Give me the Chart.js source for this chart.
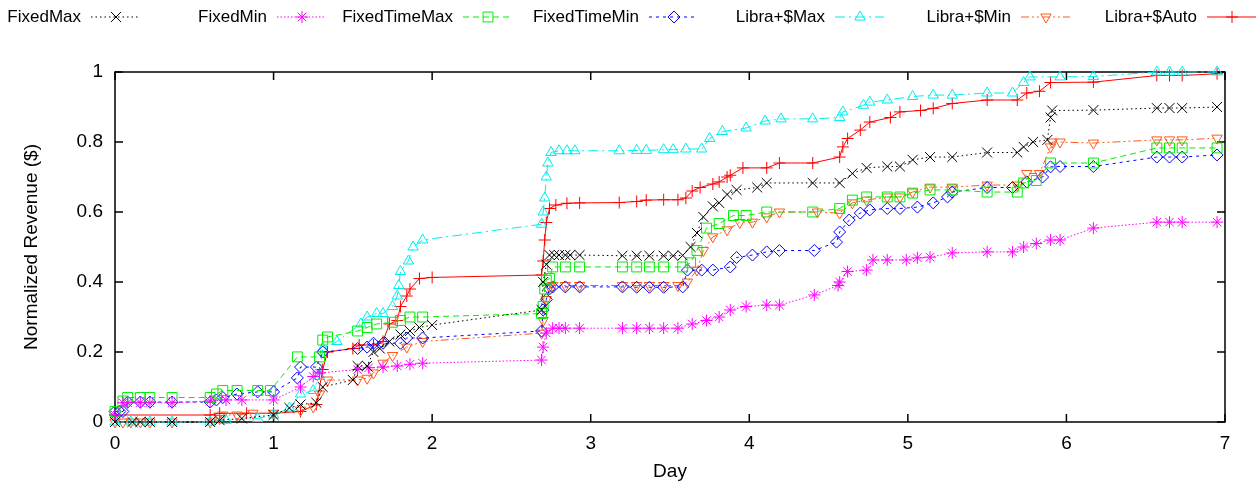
<!DOCTYPE html>
<html>
<head>
<meta charset="utf-8">
<script src="https://cdn.jsdelivr.net/npm/chart.js@4.4.1/dist/chart.umd.min.js"></script>
<style>
  html, body { margin: 0; padding: 0; background: #fff; }
  #wrap { width: 1258px; height: 485px; position: relative; }
</style>
</head>
<body>
<div id="wrap"><canvas id="revenue"></canvas></div>
<script>
// series values: [day, normalized revenue]
const fixedMax = [[0,0],[0.11,0],[0.16,0],[0.22,0],[0.36,0],[0.6,0],[0.66,0.005],[0.8,0.01],[1.0,0.02],[1.1,0.04],[1.17,0.05],[1.27,0.055],[1.31,0.1],[1.5,0.12],[1.53,0.16],[1.59,0.16],[1.63,0.2],[1.67,0.21],[1.73,0.23],[1.8,0.25],[1.86,0.26],[1.92,0.27],[2.0,0.277],[2.69,0.32],[2.7,0.4],[2.72,0.45],[2.74,0.477],[2.77,0.477],[2.8,0.477],[2.84,0.477],[2.87,0.477],[2.93,0.477],[3.2,0.475],[3.29,0.475],[3.37,0.475],[3.46,0.475],[3.52,0.475],[3.58,0.476],[3.63,0.5],[3.67,0.54],[3.71,0.586],[3.77,0.616],[3.81,0.626],[3.86,0.65],[3.92,0.663],[4.05,0.67],[4.11,0.683],[4.4,0.683],[4.57,0.683],[4.65,0.71],[4.74,0.726],[4.87,0.73],[4.95,0.73],[5.03,0.749],[5.14,0.757],[5.28,0.757],[5.5,0.77],[5.69,0.77],[5.73,0.786],[5.79,0.8],[5.88,0.806],[5.9,0.87],[5.91,0.89],[6.17,0.891],[6.57,0.897],[6.65,0.897],[6.73,0.897],[6.95,0.9]];
const fixedMin = [[0,0.02],[0.05,0.055],[0.08,0.055],[0.16,0.055],[0.22,0.055],[0.36,0.055],[0.6,0.06],[0.7,0.063],[0.8,0.063],[1.0,0.063],[1.17,0.1],[1.25,0.13],[1.29,0.14],[1.53,0.15],[1.6,0.155],[1.69,0.157],[1.78,0.16],[1.86,0.165],[1.94,0.168],[2.69,0.177],[2.7,0.214],[2.72,0.254],[2.76,0.268],[2.8,0.268],[2.84,0.268],[2.93,0.268],[3.2,0.268],[3.29,0.268],[3.37,0.268],[3.46,0.268],[3.55,0.268],[3.64,0.28],[3.73,0.29],[3.81,0.3],[3.88,0.32],[3.98,0.33],[4.11,0.334],[4.19,0.334],[4.41,0.363],[4.56,0.39],[4.57,0.4],[4.62,0.43],[4.74,0.434],[4.78,0.463],[4.87,0.463],[4.99,0.463],[5.06,0.469],[5.14,0.471],[5.28,0.483],[5.5,0.486],[5.66,0.486],[5.73,0.5],[5.81,0.51],[5.9,0.52],[5.96,0.52],[6.17,0.554],[6.57,0.571],[6.65,0.571],[6.73,0.571],[6.95,0.571]];
const fixedTimeMax = [[0,0.03],[0.05,0.06],[0.08,0.07],[0.16,0.07],[0.22,0.07],[0.36,0.07],[0.6,0.07],[0.64,0.08],[0.68,0.09],[0.77,0.09],[0.9,0.09],[0.98,0.09],[1.15,0.186],[1.29,0.186],[1.31,0.234],[1.34,0.243],[1.53,0.26],[1.59,0.27],[1.65,0.28],[1.75,0.285],[1.8,0.29],[1.86,0.3],[1.94,0.3],[2.69,0.31],[2.7,0.33],[2.71,0.38],[2.72,0.405],[2.74,0.41],[2.76,0.443],[2.84,0.443],[2.93,0.443],[3.2,0.443],[3.29,0.443],[3.37,0.443],[3.46,0.443],[3.58,0.443],[3.63,0.455],[3.67,0.49],[3.73,0.554],[3.81,0.567],[3.9,0.59],[3.98,0.59],[4.11,0.6],[4.4,0.6],[4.57,0.61],[4.65,0.634],[4.74,0.643],[4.87,0.643],[4.95,0.643],[5.03,0.654],[5.14,0.663],[5.28,0.663],[5.5,0.657],[5.69,0.657],[5.73,0.683],[5.81,0.69],[5.9,0.74],[6.17,0.74],[6.57,0.783],[6.65,0.783],[6.73,0.783],[6.95,0.783]];
const fixedTimeMin = [[0,0.03],[0.03,0.03],[0.05,0.03],[0.08,0.057],[0.16,0.057],[0.22,0.057],[0.36,0.057],[0.6,0.057],[0.64,0.063],[0.68,0.07],[0.77,0.08],[0.9,0.086],[1.0,0.086],[1.15,0.126],[1.17,0.157],[1.27,0.157],[1.31,0.2],[1.53,0.21],[1.59,0.214],[1.63,0.225],[1.69,0.225],[1.8,0.225],[1.84,0.24],[1.94,0.24],[2.69,0.26],[2.7,0.32],[2.72,0.35],[2.74,0.38],[2.76,0.386],[2.84,0.386],[2.93,0.386],[3.2,0.386],[3.29,0.385],[3.37,0.385],[3.46,0.385],[3.58,0.386],[3.61,0.434],[3.7,0.434],[3.77,0.434],[3.88,0.443],[3.92,0.47],[4.02,0.477],[4.11,0.486],[4.19,0.49],[4.41,0.49],[4.55,0.514],[4.57,0.543],[4.63,0.577],[4.7,0.597],[4.76,0.606],[4.87,0.61],[4.95,0.61],[5.06,0.614],[5.16,0.626],[5.25,0.643],[5.28,0.657],[5.5,0.67],[5.66,0.67],[5.75,0.686],[5.85,0.7],[5.9,0.729],[5.96,0.73],[6.17,0.73],[6.57,0.757],[6.65,0.757],[6.73,0.757],[6.95,0.763]];
const libraMax = [[0,0],[0.1,0],[0.22,0],[0.36,0],[0.6,0],[0.7,0.005],[0.9,0.01],[1.0,0.02],[1.1,0.04],[1.17,0.08],[1.25,0.09],[1.29,0.13],[1.31,0.21],[1.4,0.23],[1.55,0.28],[1.59,0.3],[1.65,0.31],[1.69,0.31],[1.75,0.33],[1.78,0.36],[1.79,0.39],[1.8,0.43],[1.85,0.46],[1.88,0.5],[1.94,0.52],[2.69,0.565],[2.7,0.6],[2.71,0.64],[2.72,0.7],[2.73,0.74],[2.75,0.77],[2.8,0.775],[2.85,0.775],[2.9,0.775],[3.18,0.775],[3.29,0.776],[3.35,0.776],[3.46,0.778],[3.52,0.778],[3.6,0.78],[3.7,0.78],[3.75,0.81],[3.83,0.83],[3.98,0.84],[4.1,0.86],[4.2,0.866],[4.4,0.866],[4.57,0.87],[4.59,0.886],[4.72,0.905],[4.76,0.914],[4.87,0.92],[5.03,0.93],[5.16,0.934],[5.28,0.934],[5.5,0.94],[5.66,0.94],[5.73,0.97],[5.77,0.986],[5.96,0.986],[6.17,0.987],[6.57,1.0],[6.65,1.0],[6.73,1.0],[6.95,1.0]];
const libraMin = [[0,0],[0.05,0],[0.1,0],[0.16,0],[0.22,0],[0.36,0],[0.6,0],[0.66,0.01],[0.68,0.02],[0.77,0.02],[0.87,0.025],[1.0,0.025],[1.17,0.034],[1.25,0.043],[1.29,0.08],[1.34,0.12],[1.53,0.12],[1.59,0.125],[1.63,0.14],[1.69,0.168],[1.75,0.19],[1.84,0.214],[1.94,0.23],[2.69,0.254],[2.7,0.29],[2.72,0.35],[2.74,0.386],[2.76,0.39],[2.84,0.39],[2.93,0.39],[3.2,0.39],[3.29,0.39],[3.37,0.39],[3.46,0.39],[3.55,0.39],[3.61,0.4],[3.67,0.434],[3.71,0.49],[3.77,0.529],[3.86,0.549],[3.94,0.57],[4.02,0.571],[4.11,0.586],[4.19,0.6],[4.43,0.6],[4.57,0.597],[4.65,0.626],[4.74,0.634],[4.87,0.643],[4.95,0.643],[5.03,0.657],[5.14,0.671],[5.28,0.671],[5.5,0.677],[5.69,0.677],[5.75,0.71],[5.83,0.71],[5.9,0.786],[5.91,0.8],[5.96,0.8],[6.17,0.797],[6.57,0.806],[6.65,0.806],[6.73,0.806],[6.95,0.811]];
const libraAuto = [[0,0.02],[0.6,0.02],[0.66,0.025],[0.83,0.025],[1.0,0.025],[1.17,0.03],[1.27,0.05],[1.31,0.15],[1.34,0.2],[1.5,0.21],[1.54,0.22],[1.63,0.22],[1.69,0.23],[1.73,0.28],[1.78,0.29],[1.8,0.33],[1.84,0.36],[1.86,0.38],[1.92,0.41],[2.0,0.413],[2.69,0.42],[2.7,0.46],[2.71,0.52],[2.72,0.57],[2.74,0.61],[2.78,0.62],[2.85,0.625],[2.93,0.626],[3.18,0.627],[3.29,0.63],[3.35,0.634],[3.46,0.635],[3.55,0.635],[3.6,0.64],[3.64,0.66],[3.69,0.67],[3.77,0.68],[3.81,0.686],[3.86,0.7],[3.88,0.705],[3.96,0.726],[4.11,0.726],[4.19,0.74],[4.4,0.74],[4.57,0.757],[4.59,0.786],[4.62,0.81],[4.7,0.834],[4.76,0.857],[4.89,0.87],[4.95,0.886],[5.08,0.89],[5.16,0.896],[5.28,0.91],[5.5,0.92],[5.69,0.92],[5.75,0.94],[5.83,0.945],[5.9,0.97],[6.17,0.971],[6.57,0.99],[6.65,0.99],[6.73,0.99],[6.95,0.995]];

const seriesNames = ['FixedMax', 'FixedMin', 'FixedTimeMax', 'FixedTimeMin', 'Libra+$Max', 'Libra+$Min', 'Libra+$Auto'];
const dayTicks = [0, 1, 2, 3, 4, 5, 6, 7];
const revTicks = [0, 0.2, 0.4, 0.6, 0.8, 1];

const seriesData = [fixedMax, fixedMin, fixedTimeMax, fixedTimeMin, libraMax, libraMin, libraAuto];
const colors = ['#000000', '#ff00ff', '#00ee00', '#0000ff', '#00eeee', '#ff5a1e', '#ff0000'];
const dashes = [[1.5, 3], [1.5, 2], [6, 4], [3, 4], [10, 4, 2, 4], [8, 3, 2, 3, 2, 3], []];
const markers = ['crossRot', 'star', 'rect', 'rectRot', 'triangle', 'triangle', 'cross'];
const rotations = [0, 0, 0, 0, 0, 180, 0];
const radii = [7, 6, 7, 6, 6, 6, 6];

Chart.defaults.font.family = '"Liberation Sans", Arial, sans-serif';
Chart.defaults.color = '#000';

// gnuplot style key: text, then line sample with marker
const keyPlugin = {
  id: 'key',
  afterDraw(chart) {
    const ctx = chart.ctx;
    ctx.save();
    ctx.font = '17px "Liberation Sans", Arial, sans-serif';
    ctx.textAlign = 'right';
    ctx.textBaseline = 'middle';
    chart.data.datasets.forEach((ds, i) => {
      const mx = 116 + 186 * i, y = 17;
      ctx.fillStyle = '#000';
      ctx.fillText(ds.label, mx - 35, y);
      ctx.strokeStyle = ds.borderColor;
      ctx.lineWidth = 1;
      ctx.setLineDash(ds.borderDash);
      ctx.beginPath();
      ctx.moveTo(mx - 25, y);
      ctx.lineTo(mx + 24, y);
      ctx.stroke();
      ctx.setLineDash([]);
      ctx.fillStyle = 'rgba(0,0,0,0)';
      Chart.helpers.drawPoint(ctx, {
        pointStyle: ds.pointStyle, radius: ds.pointRadius,
        rotation: ds.pointRotation, borderWidth: 1
      }, mx, y);
    });
    ctx.restore();
  }
};

// box border with inward ticks on all four sides
const framePlugin = {
  id: 'frame',
  beforeDatasetsDraw(chart) {
    const ctx = chart.ctx, a = chart.chartArea, sx = chart.scales.x, sy = chart.scales.y;
    ctx.save();
    ctx.strokeStyle = '#000';
    ctx.lineWidth = 1.5;
    ctx.strokeRect(a.left, a.top, a.right - a.left, a.bottom - a.top);
    ctx.beginPath();
    dayTicks.forEach(v => {
      const x = sx.getPixelForValue(v);
      ctx.moveTo(x, a.bottom); ctx.lineTo(x, a.bottom - 8);
      ctx.moveTo(x, a.top); ctx.lineTo(x, a.top + 8);
    });
    revTicks.forEach(v => {
      const y = sy.getPixelForValue(v);
      ctx.moveTo(a.left, y); ctx.lineTo(a.left + 8, y);
      ctx.moveTo(a.right, y); ctx.lineTo(a.right - 8, y);
    });
    ctx.stroke();
    ctx.restore();
  }
};

new Chart(document.getElementById('revenue'), {
  type: 'line',
  data: {
    datasets: seriesData.map((pts, i) => ({
      label: seriesNames[i],
      data: pts.map(p => ({ x: p[0], y: p[1] })),
      borderColor: colors[i],
      borderWidth: 1,
      borderDash: dashes[i],
      pointStyle: markers[i],
      pointRotation: rotations[i],
      pointRadius: radii[i],
      pointBorderWidth: 1,
      pointBorderColor: colors[i],
      pointBackgroundColor: 'rgba(0,0,0,0)',
      fill: false,
      tension: 0,
      clip: false
    }))
  },
  options: {
    responsive: true,
    maintainAspectRatio: false,
    animation: false,
    layout: { padding: { top: 72, right: 33, left: 0, bottom: 0 } },
    plugins: { legend: { display: false }, tooltip: { enabled: false } },
    scales: {
      x: {
        type: 'linear', min: 0, max: 7,
        grid: { display: false, drawTicks: false },
        border: { display: false },
        ticks: { stepSize: 1, padding: 10, font: { size: 19 }, color: '#000' },
        title: { display: true, text: 'Day', font: { size: 19 }, padding: { top: 0, bottom: 2 } },
        afterFit: s => { s.height = 63; }
      },
      y: {
        min: 0, max: 1,
        grid: { display: false, drawTicks: false },
        border: { display: false },
        ticks: {
          stepSize: 0.2, padding: 12, font: { size: 19 }, color: '#000',
          callback: v => String(Math.round(v * 10) / 10)
        },
        title: { display: true, text: 'Normalized Revenue ($)', font: { size: 19 }, padding: { top: 20, bottom: 0 } },
        afterFit: s => { s.width = 115; }
      }
    }
  },
  plugins: [framePlugin, keyPlugin]
});
</script>
</body>
</html>
